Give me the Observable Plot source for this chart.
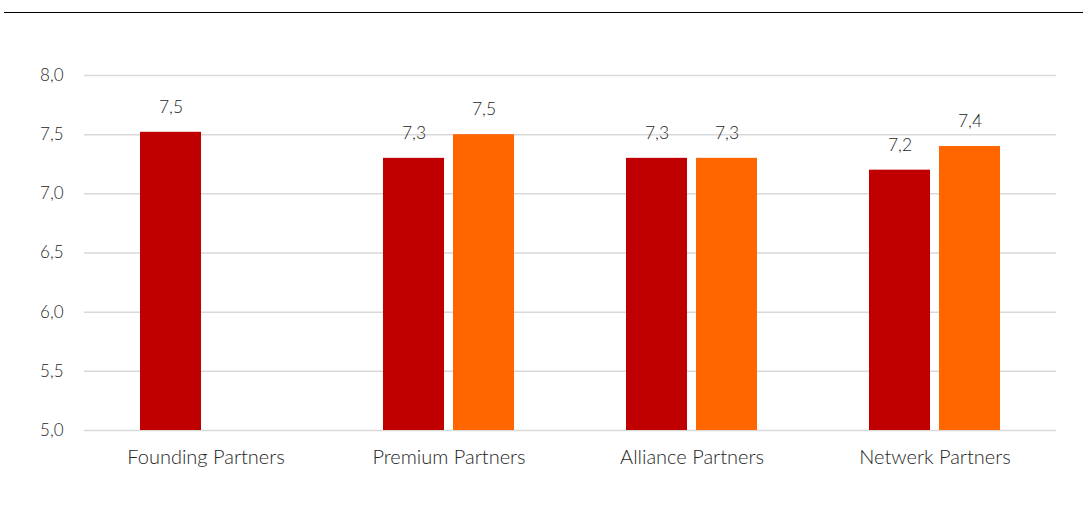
<!DOCTYPE html>
<html>
<head>
<meta charset="utf-8">
<script src="https://cdn.jsdelivr.net/npm/d3@7"></script>
<script src="https://cdn.jsdelivr.net/npm/@observablehq/plot@0.6"></script>
<style>
  html, body { margin: 0; padding: 0; background: #fff; }
  #wrap { position: relative; width: 1083px; height: 513px; overflow: hidden; }
  #topline { position: absolute; top: 11.5px; left: 4px; right: 0; height: 1.5px; background: #000; }
  #chart { position: absolute; top: 0; left: 0; }
</style>
</head>
<body>
<div id="wrap"><div id="topline"></div><div id="chart"></div></div>
<script>
const categories = ["Founding Partners", "Premium Partners", "Alliance Partners", "Netwerk Partners"];
const seriesNames = ["A", "B"];
const seriesA = [7.52, 7.3, 7.3, 7.2];
const seriesB = [null, 7.5, 7.3, 7.4];
const yTicks = [5.0, 5.5, 6.0, 6.5, 7.0, 7.5, 8.0];
const colors = ["#C00000", "#FF6600"];

const data = [];
categories.forEach((c, i) => {
  if (seriesA[i] != null) data.push({category: c, series: "A", value: seriesA[i]});
  if (seriesB[i] != null) data.push({category: c, series: "B", value: seriesB[i]});
});

const fmt = v => d3.format(".1f")(v).replace(".", ",");
const font = "Lato, 'Open Sans', sans-serif";
const textColor = "#262626";

const chart = Plot.plot({
  width: 1083,
  height: 513,
  marginTop: 75,
  marginBottom: 83,
  marginLeft: 83,
  marginRight: 26,
  style: {fontFamily: font, color: textColor, background: "transparent"},
  fx: {domain: categories, padding: 0, label: null, axis: null},
  x: {domain: seriesNames, paddingInner: 0.13, paddingOuter: 0.8, axis: null},
  y: {domain: [5, 8], axis: null, label: null},
  color: {domain: seriesNames, range: colors},
  marks: [
    Plot.gridY(yTicks, {stroke: "#d9d9d9", strokeOpacity: 1, strokeWidth: 1.5}),
    Plot.axisY(yTicks, {label: null, tickSize: 0, tickPadding: 21, tickFormat: fmt, fontSize: 17, fill: textColor, fontWeight: 300}),
    Plot.axisFx({anchor: "bottom", label: null, tickSize: 0, tickPadding: 19, fontSize: 20, fill: textColor, fontWeight: 300}),
    Plot.barY(data, {fx: "category", x: "series", y1: 5, y2: "value", fill: "series", inset: 0}),
    Plot.text(data, {fx: "category", x: "series", y: "value", text: d => fmt(d.value), dy: -25, lineAnchor: "middle", fontSize: 17.5, fill: textColor, fontWeight: 300})
  ]
});
document.getElementById("chart").appendChild(chart);
</script>
</body>
</html>
